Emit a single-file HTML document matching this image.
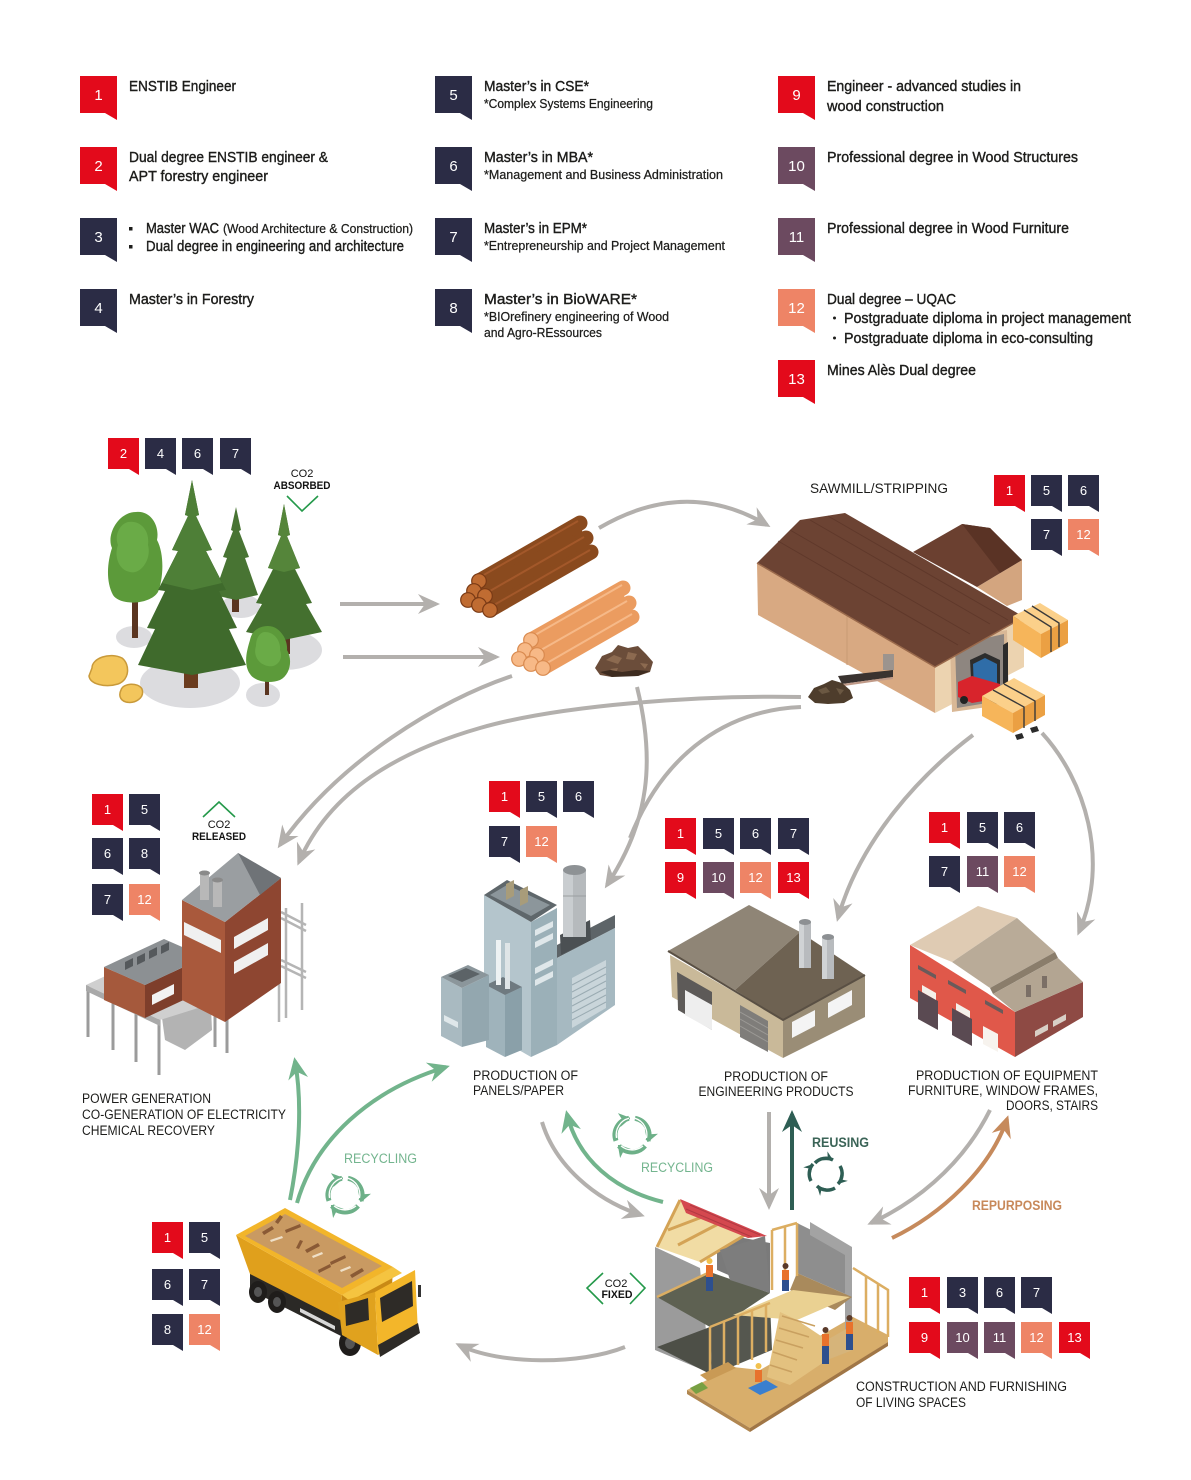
<!DOCTYPE html>
<html><head><meta charset="utf-8">
<style>
html,body{margin:0;padding:0;background:#fff;width:1191px;height:1480px;overflow:hidden}
svg{display:block}
text{font-family:"Liberation Sans",Arial,sans-serif}
.t{font-size:15px;fill:#1d1d1b;stroke:#1d1d1b;stroke-width:.4px}
.s{font-size:12.5px;fill:#1d1d1b;stroke:#1d1d1b;stroke-width:.25px}
.n{font-size:15px;fill:#fff;text-anchor:middle}
.m{font-size:13px;fill:#fff;text-anchor:middle}
.d{font-size:13.5px;fill:#1d1d1b}
.c{font-size:11px;fill:#111;text-anchor:middle}
</style></head><body>
<svg width="1191" height="1480" viewBox="0 0 1191 1480" xmlns="http://www.w3.org/2000/svg">
<defs>
 <path id="B" d="M0 0H37V44L25 37H0Z"/>
 <path id="S" d="M0 0H31V37L21 31H0Z"/>
 <marker id="ag" viewBox="-24 -12 26 24" refX="-4" refY="0" markerWidth="26" markerHeight="24" markerUnits="userSpaceOnUse" orient="auto"><path d="M0 0L-22 -10L-15 0L-22 10Z" fill="#b3b0ad"/></marker>
 <marker id="agr" viewBox="-24 -12 26 24" refX="-4" refY="0" markerWidth="26" markerHeight="24" markerUnits="userSpaceOnUse" orient="auto"><path d="M0 0L-22 -10L-15 0L-22 10Z" fill="#72b48c"/></marker>
 <marker id="adk" viewBox="-24 -12 26 24" refX="-4" refY="0" markerWidth="26" markerHeight="24" markerUnits="userSpaceOnUse" orient="auto"><path d="M0 0L-22 -10L-15 0L-22 10Z" fill="#2e5e54"/></marker>
 <marker id="abr" viewBox="-24 -12 26 24" refX="-4" refY="0" markerWidth="26" markerHeight="24" markerUnits="userSpaceOnUse" orient="auto"><path d="M0 0L-22 -10L-15 0L-22 10Z" fill="#c68a5c"/></marker>
 <marker id="sg" viewBox="-12 -8 13 16" refX="0" refY="0" markerWidth="13" markerHeight="16" markerUnits="userSpaceOnUse" orient="auto"><path d="M2 0L-10 -7L-7 0L-10 7Z" fill="#6db088"/></marker>
 <marker id="sd" viewBox="-10 -6 11 12" refX="0" refY="0" markerWidth="11" markerHeight="12" markerUnits="userSpaceOnUse" orient="auto"><path d="M0 0L-9 -5L-6 0L-9 5Z" fill="#2e5e54"/></marker>
</defs>

<!-- ================= LEGEND ================= -->
<g>
 <use href="#B" x="80" y="76" fill="#e30a1b"/><text class="n" x="98.5" y="100">1</text>
 <use href="#B" x="80" y="147" fill="#e30a1b"/><text class="n" x="98.5" y="171">2</text>
 <use href="#B" x="80" y="218" fill="#2b2c45"/><text class="n" x="98.5" y="242">3</text>
 <use href="#B" x="80" y="289" fill="#2b2c45"/><text class="n" x="98.5" y="313">4</text>

 <use href="#B" x="435" y="76" fill="#2b2c45"/><text class="n" x="453.5" y="100">5</text>
 <use href="#B" x="435" y="147" fill="#2b2c45"/><text class="n" x="453.5" y="171">6</text>
 <use href="#B" x="435" y="218" fill="#2b2c45"/><text class="n" x="453.5" y="242">7</text>
 <use href="#B" x="435" y="289" fill="#2b2c45"/><text class="n" x="453.5" y="313">8</text>

 <use href="#B" x="778" y="76" fill="#e30a1b"/><text class="n" x="796.5" y="100">9</text>
 <use href="#B" x="778" y="147" fill="#6c4a60"/><text class="n" x="796.5" y="171">10</text>
 <use href="#B" x="778" y="218" fill="#6c4a60"/><text class="n" x="796.5" y="242">11</text>
 <use href="#B" x="778" y="289" fill="#ee8466"/><text class="n" x="796.5" y="313">12</text>
 <use href="#B" x="778" y="360" fill="#e30a1b"/><text class="n" x="796.5" y="384">13</text>

 <text class="t" x="129" y="91" textLength="107" lengthAdjust="spacingAndGlyphs">ENSTIB Engineer</text>
 <text class="t" x="129" y="162" textLength="199" lengthAdjust="spacingAndGlyphs">Dual degree ENSTIB engineer &amp;</text>
 <text class="t" x="129" y="181" textLength="139" lengthAdjust="spacingAndGlyphs">APT forestry engineer</text>
 <rect x="129" y="227" width="3.5" height="3.5" fill="#1d1d1b"/>
 <rect x="129" y="245" width="3.5" height="3.5" fill="#1d1d1b"/>
 <text class="t" x="146" y="233" textLength="73" lengthAdjust="spacingAndGlyphs">Master WAC</text>
 <text class="s" x="223" y="233" textLength="190" lengthAdjust="spacingAndGlyphs">(Wood Architecture &amp; Construction)</text>
 <text class="t" x="146" y="251" textLength="258" lengthAdjust="spacingAndGlyphs">Dual degree in engineering and architecture</text>
 <text class="t" x="129" y="304" textLength="125" lengthAdjust="spacingAndGlyphs">Master’s in Forestry</text>

 <text class="t" x="484" y="91" textLength="105" lengthAdjust="spacingAndGlyphs">Master’s in CSE*</text>
 <text class="s" x="484" y="108" textLength="169" lengthAdjust="spacingAndGlyphs">*Complex Systems Engineering</text>
 <text class="t" x="484" y="162" textLength="109" lengthAdjust="spacingAndGlyphs">Master’s in MBA*</text>
 <text class="s" x="484" y="179" textLength="239" lengthAdjust="spacingAndGlyphs">*Management and Business Administration</text>
 <text class="t" x="484" y="233" textLength="103" lengthAdjust="spacingAndGlyphs">Master’s in EPM*</text>
 <text class="s" x="484" y="250" textLength="241" lengthAdjust="spacingAndGlyphs">*Entrepreneurship and Project Management</text>
 <text class="t" x="484" y="304" textLength="153" lengthAdjust="spacingAndGlyphs">Master’s in BioWARE*</text>
 <text class="s" x="484" y="321" textLength="185" lengthAdjust="spacingAndGlyphs">*BIOrefinery engineering of Wood</text>
 <text class="s" x="484" y="337" textLength="118" lengthAdjust="spacingAndGlyphs">and Agro-REssources</text>

 <text class="t" x="827" y="91" textLength="194" lengthAdjust="spacingAndGlyphs">Engineer - advanced studies in</text>
 <text class="t" x="827" y="111" textLength="117" lengthAdjust="spacingAndGlyphs">wood construction</text>
 <text class="t" x="827" y="162" textLength="251" lengthAdjust="spacingAndGlyphs">Professional degree in Wood Structures</text>
 <text class="t" x="827" y="233" textLength="242" lengthAdjust="spacingAndGlyphs">Professional degree in Wood Furniture</text>
 <text class="t" x="827" y="304" textLength="129" lengthAdjust="spacingAndGlyphs">Dual degree – UQAC</text>
 <circle cx="834.5" cy="318" r="1.5" fill="#1d1d1b"/>
 <circle cx="834.5" cy="338" r="1.5" fill="#1d1d1b"/>
 <text class="t" x="844" y="323" textLength="287" lengthAdjust="spacingAndGlyphs">Postgraduate diploma in project management</text>
 <text class="t" x="844" y="343" textLength="249" lengthAdjust="spacingAndGlyphs">Postgraduate diploma in eco-consulting</text>
 <text class="t" x="827" y="375" textLength="149" lengthAdjust="spacingAndGlyphs">Mines Alès Dual degree</text>
</g>

<!-- ================= CONNECTORS ================= -->
<g fill="none" stroke-linecap="butt">
 <g stroke="#b3b0ad" stroke-width="4">
  <path d="M340 604 H436" marker-end="url(#ag)"/>
  <path d="M343 657 H496" marker-end="url(#ag)"/>
  <path d="M599 528 Q686 477 767 525" marker-end="url(#ag)"/>
  <path d="M512 676 C440 700 340 760 280 845" marker-end="url(#ag)"/>
  <path d="M801 697 C700 695 560 705 480 728 S330 790 299 862" marker-end="url(#ag)"/>
  <path d="M637 687 C655 760 650 820 607 885" marker-end="url(#ag)"/>
  <path d="M801 707 C730 710 665 750 630 838"/>
  <path d="M973 735 C920 775 860 840 838 918" marker-end="url(#ag)"/>
  <path d="M1042 733 C1085 780 1110 860 1079 932" marker-end="url(#ag)"/>
  <path d="M542 1122 C555 1165 595 1200 641 1215" marker-end="url(#ag)"/>
  <path d="M769 1112 V1206" marker-end="url(#ag)"/>
  <path d="M990 1110 C960 1170 910 1205 871 1223" marker-end="url(#ag)"/>
  <path d="M625 1347 C580 1365 500 1365 459 1345" marker-end="url(#ag)"/>
 </g>
 <g stroke="#72b48c" stroke-width="4">
  <path d="M290 1200 C300 1150 302 1100 295 1061" marker-end="url(#agr)"/>
  <path d="M297 1203 C315 1140 370 1090 446 1067" marker-end="url(#agr)"/>
  <path d="M663 1202 C615 1190 578 1160 567 1114" marker-end="url(#agr)"/>
 </g>
 <path d="M792 1210 V1114" stroke="#2e5e54" stroke-width="4" marker-end="url(#adk)"/>
 <path d="M892 1238 C940 1215 990 1170 1007 1119" stroke="#c68a5c" stroke-width="4" marker-end="url(#abr)"/>
</g>

<!-- ================= FOREST ================= -->
<g>
 <g fill="#dcdcdf">
  <ellipse cx="190" cy="683" rx="50" ry="25"/>
  <ellipse cx="134" cy="637" rx="18" ry="11"/>
  <ellipse cx="285" cy="650" rx="37" ry="20"/>
  <ellipse cx="263" cy="695" rx="17" ry="12"/>
  <ellipse cx="241" cy="606" rx="19" ry="12"/>
 </g>
 <g fill="#5a3520">
  <rect x="232" y="590" width="7" height="22"/>
  <rect x="280" y="630" width="10" height="24"/>
  <rect x="132" y="595" width="6" height="43"/>
  <rect x="184" y="655" width="14" height="33" fill="#6b3c1f"/>
  <rect x="265" y="672" width="4" height="23"/>
 </g>
 <path fill="#487433" d="M236 507L241 530L239 531L249 557L245 558L258 595L236 600L214 595L227 558L223 557L233 531L231 530Z"/>
 <path fill="#5c9a3a" d="M136 512C150 510 160 525 157 540C165 555 163 580 158 592C150 605 120 606 113 595C105 580 108 560 112 548C106 535 118 512 136 512Z"/>
 <path fill="#6aab47" d="M128 522C140 520 150 530 148 545C152 560 140 575 130 572C118 570 114 555 118 545C114 535 120 524 128 522Z"/>
 <path fill="#44702f" d="M284 504L290 535L287 536L300 568L295 569L312 603L306 604L322 632L284 640L246 632L262 604L256 603L273 569L268 568L281 536L278 535Z"/>
 <path fill="#55853a" d="M284 504L290 535L287 536L300 568L284 572L268 568L281 536L278 535Z"/>
 <path fill="#3f6a2c" d="M192 480L199 515L196 516L212 550L206 551L226 590L219 591L237 628L229 629L246 665L192 675L138 665L155 629L147 628L165 591L158 590L178 551L172 550L188 516L185 515Z"/>
 <path fill="#4e7f37" d="M192 480L199 515L196 516L212 550L206 551L222 583L192 590L162 583L178 551L172 550L188 516L185 515Z"/>
 <path fill="#5c9a3a" d="M268 626C280 626 288 640 287 650C293 660 290 675 280 680C270 684 255 682 250 674C243 664 247 650 250 640C252 630 260 626 268 626Z"/>
 <path fill="#6aab47" d="M265 632C275 632 281 642 280 650C284 660 276 668 268 666C258 664 253 655 256 646C256 638 260 632 265 632Z"/>
 <path fill="#f3c65c" stroke="#c99a3a" stroke-width="1.5" d="M92 668C92 658 110 652 122 658C130 664 130 680 118 684C105 688 90 684 89 676Z"/>
 <path fill="#f3c65c" stroke="#c99a3a" stroke-width="1.5" d="M121 690C123 683 138 682 142 689C145 698 135 704 126 702C119 700 119 694 121 690Z"/>
 <text class="c" x="302" y="477">CO2</text>
 <text class="c" x="302" y="489" font-weight="bold" textLength="57" lengthAdjust="spacingAndGlyphs">ABSORBED</text>
 <polyline points="287,496 302,511 318,496" fill="none" stroke="#24994a" stroke-width="1.6"/>
</g>

<!-- ================= LOGS ================= -->
<g>
 <g stroke="#8a4a1e" stroke-width="15" stroke-linecap="round">
  <line x1="479" y1="581" x2="580" y2="523"/>
  <line x1="474" y1="591" x2="575" y2="533"/>
  <line x1="485" y1="596" x2="586" y2="538"/>
  <line x1="468" y1="600" x2="569" y2="542"/>
  <line x1="479" y1="605" x2="580" y2="547"/>
  <line x1="490" y1="610" x2="591" y2="552"/>
 </g>
 <g stroke="#a3582a" stroke-width="2">
  <line x1="482" y1="576" x2="578" y2="521"/>
  <line x1="490" y1="591" x2="584" y2="537"/>
  <line x1="494" y1="605" x2="590" y2="550"/>
 </g>
 <g fill="#c06c32" stroke="#7a3a15" stroke-width="1.2">
  <circle cx="479" cy="581" r="7.3"/>
  <circle cx="474" cy="591" r="7.3"/>
  <circle cx="485" cy="596" r="7.3"/>
  <circle cx="468" cy="600" r="7.3"/>
  <circle cx="479" cy="605" r="7.3"/>
  <circle cx="490" cy="610" r="7.3"/>
 </g>
 <g stroke="#eb9c60" stroke-width="15" stroke-linecap="round">
  <line x1="531" y1="640" x2="623" y2="588"/>
  <line x1="525" y1="650" x2="617" y2="598"/>
  <line x1="537" y1="655" x2="629" y2="603"/>
  <line x1="519" y1="659" x2="611" y2="607"/>
  <line x1="531" y1="664" x2="623" y2="612"/>
  <line x1="543" y1="668" x2="632" y2="617"/>
 </g>
 <g stroke="#f6b988" stroke-width="2">
  <line x1="535" y1="635" x2="622" y2="585"/>
  <line x1="541" y1="650" x2="627" y2="601"/>
  <line x1="547" y1="663" x2="632" y2="614"/>
 </g>
 <g fill="#f7b987" stroke="#d98a4f" stroke-width="1.2">
  <circle cx="531" cy="640" r="7.3"/>
  <circle cx="525" cy="650" r="7.3"/>
  <circle cx="537" cy="655" r="7.3"/>
  <circle cx="519" cy="659" r="7.3"/>
  <circle cx="531" cy="664" r="7.3"/>
  <circle cx="543" cy="668" r="7.3"/>
 </g>
 <path fill="#6b4d3a" d="M595 668L602 656L612 652L618 645L628 648L638 646L646 654L653 662L650 672L638 676L624 674L612 677L600 675Z"/>
 <path fill="#8c6a50" d="M606 660L614 655L622 658L618 664ZM628 652L637 654L634 660L626 659ZM640 663L648 664L645 669ZM610 669L618 668L616 673Z"/>
 <path fill="#3e2c20" d="M600 672L610 670L622 672L636 670L650 671L638 676L612 677Z"/>
</g>

<!-- ================= SAWMILL ================= -->
<g>
 <text class="d" x="810" y="493" textLength="138" lengthAdjust="spacingAndGlyphs">SAWMILL/STRIPPING</text>
 <path fill="#d3a57f" d="M977 587L1022 560L1022 600L1007 606Z"/>
 <path fill="#6b4030" d="M913 552L962 524L990 528L1022 560L977 587Z"/>
 <path fill="#5a3325" d="M962 524L990 528L1022 560L1000 573Z"/>
 <path fill="#d8a982" d="M757 563L935 667L935 713L758 615Z"/>
 <line x1="847" y1="615" x2="847" y2="665" stroke="#c99a74" stroke-width="1"/>
 <path fill="#ecd3b0" d="M935 667L1000 626L1024 617L1024 667L935 713Z"/>
 <path fill="#d9b896" d="M950 640L1007 630L1009 704L952 712Z"/>
 <path fill="#8e8680" d="M955 645L1004 634L1005 700L957 708Z"/>
 <path fill="#6c4333" d="M757 563L800 520L845 513L1024 617L935 667Z"/>
 <g stroke="#5a3427" stroke-width="1" opacity=".7">
  <line x1="778" y1="541" x2="958" y2="645"/>
  <line x1="790" y1="530" x2="970" y2="634"/>
  <line x1="810" y1="520" x2="990" y2="624"/>
  <line x1="828" y1="516" x2="1008" y2="620"/>
 </g>
 <path fill="none" stroke="#9a6a4c" stroke-width="1.5" d="M757 563L935 667L1024 617"/>
 <rect x="883" y="654" width="11" height="16" fill="#9c948e"/>
 <path fill="#3a3330" d="M838 676L893 670L893 677L842 684Z"/>
 <path fill="#c09a88" d="M842 684L893 677L893 679L844 686Z"/>
 <path fill="#4e3d2c" d="M808 697L814 688L824 684L832 680L842 683L850 690L853 698L844 703L828 704L815 703Z"/>
 <path fill="#6b5842" d="M818 690L826 687L830 692L822 694ZM836 688L844 690L840 695Z"/>
 <path fill="#fbd08a" d="M1013 616L1040 603L1068 620L1041 634Z"/>
 <path fill="#f6b55a" d="M1013 616L1041 634L1041 658L1013 640Z"/>
 <path fill="#eba043" d="M1041 634L1068 620L1068 643L1041 658Z"/>
 <path fill="none" stroke="#3a3a3a" stroke-width="1.4" d="M1024 610L1051 627L1051 652M1032 606L1059 623L1059 647"/>
 <path fill="#2b2b2b" d="M1003 645L1008 642L1008 700L1003 702Z"/>
 <path fill="#2d2d2d" d="M970 660L985 653L1000 660L1000 690L972 697Z"/>
 <path fill="#2f6da8" d="M973 664L985 658L997 664L997 684L974 690Z"/>
 <path fill="#d8242c" d="M958 682L972 676L1000 684L1000 698L972 703L958 697Z"/>
 <circle cx="964" cy="700" r="4" fill="#222"/><circle cx="994" cy="701" r="4" fill="#222"/>
 <path fill="#fbd08a" d="M982 696L1014 678L1045 695L1013 713Z"/>
 <path fill="#f6b55a" d="M982 696L1013 713L1013 733L982 716Z"/>
 <path fill="#eba043" d="M1013 713L1045 695L1045 715L1013 733Z"/>
 <path fill="none" stroke="#3a3a3a" stroke-width="1.4" d="M993 690L1024 707L1024 728M1004 684L1035 701L1035 721"/>
 <path fill="#2b2b2b" d="M1015 735L1022 733L1024 738L1017 740ZM1030 728L1037 726L1039 731L1032 733Z"/>
</g>

<!-- ================= POWER PLANT ================= -->
<g>
 <text class="c" x="219" y="828">CO2</text>
 <text class="c" x="219" y="840" font-weight="bold" textLength="54" lengthAdjust="spacingAndGlyphs">RELEASED</text>
 <polyline points="203,817 219,802 235,817" fill="none" stroke="#24994a" stroke-width="1.6"/>
 <g stroke="#b5b5b5" stroke-width="2.5">
  <line x1="279" y1="905" x2="279" y2="1022"/><line x1="286" y1="908" x2="286" y2="1018"/>
  <line x1="302" y1="903" x2="302" y2="1010"/>
  <line x1="281" y1="912" x2="306" y2="925"/><line x1="281" y1="918" x2="306" y2="931"/>
  <line x1="281" y1="960" x2="306" y2="972"/><line x1="281" y1="966" x2="306" y2="978"/>
 </g>
 <g stroke="#9b9b9b" stroke-width="3">
  <line x1="88" y1="985" x2="88" y2="1037"/><line x1="113" y1="1000" x2="113" y2="1050"/>
  <line x1="136" y1="1008" x2="136" y2="1062"/><line x1="159" y1="1015" x2="159" y2="1075"/>
  <line x1="215" y1="995" x2="215" y2="1047"/><line x1="227" y1="1000" x2="227" y2="1053"/>
 </g>
 <path fill="#b3b3b3" d="M160 1003L210 985L212 1030L185 1050L165 1040Z"/>
 <path fill="#cfcfcf" d="M86 985L140 960L230 998L160 1020Z"/>
 <path fill="#a9a9a9" d="M86 985L160 1020L160 1026L86 991Z"/>
 <path fill="#a5593c" d="M104 967L145 985L145 1018L104 1000Z"/>
 <path fill="#7e3e2b" d="M145 985L205 957L205 990L145 1018Z"/>
 <path fill="#8c9093" d="M104 967L164 939L205 957L145 985Z"/>
 <g fill="#55595c">
  <path d="M125 962L133 958L133 966L125 970Z"/><path d="M137 957L145 953L145 961L137 965Z"/>
  <path d="M149 951L157 947L157 955L149 959Z"/><path d="M161 946L169 942L169 950L161 954Z"/>
 </g>
 <path fill="#f2f2f2" d="M152 995L174 984L174 994L152 1005Z"/>
 <rect x="188" y="942" width="28" height="30" fill="#c2c2c2"/>
 <path fill="#a9593c" d="M182 900L225 922L225 1022L182 1000Z"/>
 <path fill="#8e4631" d="M225 922L281 878L281 983L225 1022Z"/>
 <path fill="#9a9ea1" d="M238 853L182 900L225 922L281 878Z"/>
 <path fill="#6f7377" d="M281 878L238 853L260 895Z"/>
 <rect x="200" y="873" width="9" height="27" fill="#b8b8b8"/><rect x="213" y="880" width="9" height="27" fill="#b8b8b8"/>
 <ellipse cx="204.5" cy="873" rx="5.5" ry="2.5" fill="#8a8a8a"/><ellipse cx="217.5" cy="880" rx="5.5" ry="2.5" fill="#8a8a8a"/>
 <path fill="#f0f0f0" d="M184 922L221 940L221 953L184 935Z"/>
 <path fill="#f0f0f0" d="M234 937L268 918L268 930L234 949Z"/>
 <path fill="#f0f0f0" d="M234 962L268 943L268 955L234 974Z"/>
 <text class="d" x="82" y="1103" textLength="129" lengthAdjust="spacingAndGlyphs">POWER GENERATION</text>
 <text class="d" x="82" y="1119" textLength="204" lengthAdjust="spacingAndGlyphs">CO-GENERATION OF ELECTRICITY</text>
 <text class="d" x="82" y="1135" textLength="133" lengthAdjust="spacingAndGlyphs">CHEMICAL RECOVERY</text>
</g>

<!-- ================= PANELS FACTORY ================= -->
<g>
 <path fill="#b4c5cc" d="M484 895L531 922L531 1057L484 1030Z"/>
 <path fill="#9bb0b8" d="M531 922L557 908L557 1045L531 1057Z"/>
 <path fill="#5f676b" d="M484 895L507 880L557 905L531 922Z"/>
 <path fill="#8c969b" d="M490 895L507 885L550 905L531 916Z"/>
 <path fill="#a89c7a" d="M506 884L514 880L514 896L506 900Z"/><path fill="#a89c7a" d="M520 890L528 886L528 902L520 906Z"/>
 <g fill="#dfe7ea"><path d="M535 930L553 921L553 927L535 936Z"/><path d="M535 942L553 933L553 939L535 948Z"/><path d="M535 968L553 959L553 965L535 974Z"/><path d="M535 980L553 971L553 977L535 986Z"/></g>
 <path fill="#5d6468" d="M557 945L615 915L615 928L557 958Z"/>
 <path fill="#a6b9c1" d="M557 958L615 928L615 1005L557 1045Z"/>
 <path fill="#c9d5da" d="M572 978L606 960L606 1008L572 1028Z"/>
 <g stroke="#9aabb2" stroke-width="1"><line x1="572" y1="985" x2="606" y2="967"/><line x1="572" y1="992" x2="606" y2="974"/><line x1="572" y1="999" x2="606" y2="981"/><line x1="572" y1="1006" x2="606" y2="988"/><line x1="572" y1="1013" x2="606" y2="995"/><line x1="572" y1="1020" x2="606" y2="1002"/></g>
 <path fill="#4b5053" d="M560 935L590 920L591 940L561 955Z"/>
 <rect x="563" y="870" width="23" height="67" fill="#b6babd"/>
 <rect x="563" y="870" width="10" height="67" fill="#c9cdd0"/>
 <ellipse cx="574.5" cy="870" rx="11.5" ry="5" fill="#8e9295"/>
 <line x1="563" y1="896" x2="586" y2="896" stroke="#9a9ea1" stroke-width="1"/>
 <path fill="#9fb3bb" d="M486 985L505 995L505 1057L486 1047Z"/>
 <path fill="#8aa0a9" d="M505 995L522 987L522 1050L505 1057Z"/>
 <path fill="#6f7a80" d="M486 985L503 977L522 987L505 995Z"/>
 <rect x="496" y="940" width="5" height="45" fill="#eef2f3"/><rect x="505" y="943" width="5" height="46" fill="#dfe5e7"/>
 <path fill="#a9bac1" d="M441 977L462 988L462 1047L441 1036Z"/>
 <path fill="#93a7af" d="M462 988L489 975L489 1040L462 1047Z"/>
 <path fill="#8b969b" d="M441 977L468 965L489 975L462 988Z"/>
 <path fill="#5c6367" d="M448 976L466 968L480 974L462 982Z"/>
 <path fill="#dfe7ea" d="M444 1015L458 1022L458 1028L444 1021Z"/>
 <text class="d" x="473" y="1080" textLength="105" lengthAdjust="spacingAndGlyphs">PRODUCTION OF</text>
 <text class="d" x="473" y="1095" textLength="91" lengthAdjust="spacingAndGlyphs">PANELS/PAPER</text>
</g>

<!-- ================= ENGINEERING BUILDING ================= -->
<g>
 <path fill="#c9b999" d="M670 955L783 1020L783 1058L672 997Z"/>
 <path fill="#9a8d76" d="M783 1020L865 975L865 1017L783 1058Z"/>
 <path fill="#5d5a58" d="M677 972L712 992L712 1030L678 1010Z"/>
 <path fill="#eeeeee" d="M685 990L712 1005L712 1030L685 1015Z"/>
 <path fill="#7f7d7a" d="M740 1005L768 1021L768 1052L740 1037Z"/>
 <g stroke="#9c9a96" stroke-width="1"><line x1="740" y1="1012" x2="768" y2="1028"/><line x1="740" y1="1019" x2="768" y2="1035"/><line x1="740" y1="1026" x2="768" y2="1042"/></g>
 <path fill="#f4f4f4" d="M792 1022L815 1010L815 1026L792 1038Z"/>
 <path fill="#f4f4f4" d="M828 1003L852 990L852 1005L828 1018Z"/>
 <path fill="#8f8576" d="M749 905L668 951L735 990L800 932Z"/>
 <path fill="#6e6252" d="M800 932L735 990L783 1020L865 975Z"/>
 <path fill="none" stroke="#5a5044" stroke-width="2" d="M668 951L783 1020L865 975"/>
 <rect x="799" y="922" width="12" height="46" fill="#b8bbbe"/><rect x="799" y="922" width="5" height="46" fill="#d0d3d5"/>
 <ellipse cx="805" cy="922" rx="6" ry="3" fill="#8d9093"/>
 <rect x="822" y="937" width="12" height="42" fill="#b8bbbe"/><rect x="822" y="937" width="5" height="42" fill="#d0d3d5"/>
 <ellipse cx="828" cy="937" rx="6" ry="3" fill="#8d9093"/>
 <text class="d" x="776" y="1081" text-anchor="middle" textLength="104" lengthAdjust="spacingAndGlyphs">PRODUCTION OF</text>
 <text class="d" x="776" y="1096" text-anchor="middle" textLength="155" lengthAdjust="spacingAndGlyphs">ENGINEERING PRODUCTS</text>
</g>

<!-- ================= FURNITURE BUILDING ================= -->
<g>
 <path fill="#e0584a" d="M910 945L987 993L1015 1012L1015 1057L910 998Z"/>
 <path fill="#8e4a44" d="M1015 1012L1083 982L1083 1017L1015 1057Z"/>
 <path fill="#dfcbb3" d="M910 945L978 906L1017 918L952 962Z"/>
 <path fill="#b9ab98" d="M952 962L1017 918L1055 952L990 988Z"/>
 <path fill="#8a7d6b" d="M990 988L1055 952L1058 958L993 994Z"/>
 <path fill="#b3a592" d="M993 994L1058 958L1083 982L1015 1012Z"/>
 <g fill="#5a4a52"><path d="M918 990L938 1001L938 1030L918 1019Z"/><path d="M952 1008L972 1019L972 1046L952 1035Z"/></g>
 <path fill="#f4f0ea" d="M922 985L936 993L936 1000L922 992Z"/><path fill="#f4f0ea" d="M956 1003L970 1011L970 1018L956 1010Z"/>
 <path fill="#f7f3ee" d="M983 1026L998 1034L998 1052L983 1044Z"/>
 <g fill="#6a5a5a"><path d="M918 965L936 975L936 979L918 969Z"/><path d="M948 980L966 990L966 994L948 984Z"/><path d="M985 1000L1003 1010L1003 1014L985 1004Z"/></g>
 <g fill="#d8cfc6"><path d="M1035 1031L1048 1024L1048 1030L1035 1037Z"/><path d="M1053 1021L1066 1014L1066 1020L1053 1027Z"/></g>
 <rect x="1026" y="985" width="5" height="12" fill="#7b6f66"/><rect x="1042" y="976" width="5" height="12" fill="#7b6f66"/>
 <text class="d" x="1098" y="1080" text-anchor="end" textLength="182" lengthAdjust="spacingAndGlyphs">PRODUCTION OF EQUIPMENT</text>
 <text class="d" x="1098" y="1095" text-anchor="end" textLength="190" lengthAdjust="spacingAndGlyphs">FURNITURE, WINDOW FRAMES,</text>
 <text class="d" x="1098" y="1110" text-anchor="end" textLength="92" lengthAdjust="spacingAndGlyphs">DOORS, STAIRS</text>
</g>

<!-- ================= TRUCK ================= -->
<g>
 <path fill="#2b2926" d="M250 1268L345 1318L345 1338L250 1290Z"/>
 <path fill="#d8d8d8" d="M300 1308L335 1326L335 1330L300 1312Z"/>
 <ellipse cx="258" cy="1292" rx="9" ry="11" fill="#1f1d1b"/><ellipse cx="258" cy="1292" rx="4" ry="5" fill="#555"/>
 <ellipse cx="277" cy="1302" rx="9" ry="11" fill="#1f1d1b"/><ellipse cx="277" cy="1302" rx="4" ry="5" fill="#555"/>
 <ellipse cx="350" cy="1343" rx="11" ry="13" fill="#1f1d1b"/><ellipse cx="350" cy="1343" rx="5" ry="6" fill="#555"/>
 <path fill="#e0a01c" d="M236 1235L342 1295L340 1320L250 1274Z"/>
 <path fill="#c98a15" d="M342 1295L393 1267L392 1287L340 1320Z"/>
 <path fill="#f2b52a" d="M236 1235L285 1208L393 1267L342 1295Z"/>
 <path fill="#c99a62" d="M245 1236L285 1214L382 1266L342 1288Z"/>
 <g fill="#8a5a35">
  <path d="M262 1232L272 1226L274 1229L264 1235Z"/><path d="M285 1230L300 1224L301 1227L286 1233Z"/>
  <path d="M305 1250L318 1243L320 1246L307 1253Z"/><path d="M330 1262L345 1255L346 1258L331 1265Z"/>
  <path d="M296 1248L300 1240L303 1241L299 1249Z"/><path d="M350 1275L362 1268L364 1271L352 1278Z"/>
  <path d="M275 1222L280 1215L283 1217L278 1224Z"/><path d="M318 1270L330 1264L331 1267L319 1273Z"/>
 </g>
 <g fill="#efe0c8"><path d="M270 1240L282 1236L283 1238L271 1242Z"/><path d="M312 1256L322 1252L323 1254L313 1258Z"/><path d="M340 1270L350 1266L351 1268L341 1272Z"/></g>
 <path fill="#f5c440" d="M342 1295L393 1267L402 1273L350 1301Z"/>
 <path fill="#e0a21e" d="M338 1302L375 1292L378 1355L342 1335Z"/>
 <path fill="#f3b62a" d="M375 1292L415 1270L418 1333L378 1355Z"/>
 <path fill="#2e2b27" d="M380 1298L412 1281L413 1306L382 1322Z"/>
 <path fill="#2e2b27" d="M345 1305L368 1298L369 1320L346 1326Z"/>
 <path fill="#2e2b27" d="M378 1345L418 1323L420 1333L380 1357Z"/>
 <rect x="418" y="1285" width="3" height="12" fill="#333"/>
</g>

<!-- ================= CONSTRUCTION HOUSE ================= -->
<g>
 <path fill="#d8ae6b" d="M687 1390L750 1428L797 1400L888 1342L888 1335L853 1317L760 1370L733 1367Z"/>
 <path fill="#b08650" d="M687 1390L750 1428L750 1432L687 1394Z"/>
 <path fill="#a07646" d="M750 1428L888 1342L888 1346L750 1432Z"/>
 <path fill="#9b9b9b" d="M655 1247L700 1268L710 1373L655 1350Z"/>
 <path fill="#7a7a7a" d="M717 1233L770 1243L770 1293L717 1270Z"/>
 <path fill="#8e8e8e" d="M797 1223L852 1250L852 1297L797 1273Z"/>
 <path fill="#a3a3a3" d="M810 1222L852 1247L852 1333L845 1330L845 1255L810 1235Z"/>
 <path fill="#5e6152" d="M657 1297L710 1272L770 1293L737 1315L710 1327Z"/>
 <path fill="#4d4f47" d="M657 1347L710 1327L712 1375Z"/>
 <path fill="#55574f" d="M710 1327L770 1303L772 1350L712 1375Z"/>
 <path fill="#a98a5c" d="M797 1273L852 1297L835 1310L790 1290Z"/>
 <path fill="#ead192" d="M733 1315L793 1290L850 1297L797 1320Z"/>
 <path fill="#e3c17f" d="M767 1377L780 1312L797 1320L827 1340L827 1360L790 1385Z"/>
 <g stroke="#c9a060" stroke-width="1.5"><line x1="770" y1="1365" x2="792" y2="1372"/><line x1="773" y1="1352" x2="797" y2="1360"/><line x1="776" y1="1340" x2="803" y2="1348"/><line x1="779" y1="1328" x2="809" y2="1337"/><line x1="782" y1="1316" x2="815" y2="1326"/></g>
 <path fill="#d6b47a" d="M827 1340L853 1325L853 1350L827 1360Z"/>
 <g stroke="#dcae62" stroke-width="2.5" fill="none">
  <path d="M710 1327L710 1375M724 1322L724 1370M738 1316L738 1365M752 1310L752 1360M766 1305L766 1352"/>
  <path d="M772 1230L772 1290M785 1226L785 1283M797 1223L797 1276M772 1230L797 1223"/>
  <path d="M853 1268L888 1290L888 1337M866 1276L866 1330M878 1283L878 1333"/>
  <path d="M657 1297L710 1272M710 1327L770 1303"/>
 </g>
 <path fill="#f1dca4" d="M657 1247L680 1200L750 1232L700 1262Z"/>
 <g stroke="#d4a356" stroke-width="3" fill="none"><path d="M657 1247L680 1200M668 1230L710 1214M678 1245L722 1222M700 1262L750 1232"/></g>
 <path fill="#7d7d7d" d="M720 1250L765 1236L770 1293L730 1280Z"/>
 <path fill="#d4484f" d="M680 1199L767 1236L748 1238L686 1213Z"/>
 <g stroke="#b23a42" stroke-width="1"><line x1="690" y1="1205" x2="760" y2="1235"/><line x1="686" y1="1209" x2="752" y2="1237"/></g>
 <g>
  <rect x="706" y="1265" width="7" height="12" fill="#e8722c"/><rect x="706" y="1277" width="7" height="14" fill="#2d4f8e"/><circle cx="709.5" cy="1261" r="3" fill="#f2c14e"/>
  <rect x="782" y="1270" width="7" height="10" fill="#e8722c"/><rect x="782" y="1280" width="7" height="11" fill="#2d4f8e"/><circle cx="785.5" cy="1266" r="3" fill="#5a3a2a"/>
  <rect x="822" y="1334" width="7" height="12" fill="#e8722c"/><rect x="822" y="1346" width="7" height="18" fill="#2d4f8e"/><circle cx="825.5" cy="1330" r="3" fill="#5a3a2a"/>
  <rect x="846" y="1322" width="7" height="12" fill="#e8722c"/><rect x="846" y="1334" width="7" height="16" fill="#2d4f8e"/><circle cx="849.5" cy="1318" r="3" fill="#5a3a2a"/>
  <rect x="755" y="1370" width="7" height="12" fill="#e8722c"/><circle cx="758.5" cy="1366" r="3" fill="#f2c14e"/>
  <path fill="#3a7fcf" d="M748 1388L766 1380L778 1387L760 1395Z"/>
  <path fill="#c99a55" d="M700 1375L728 1362L736 1368L708 1381Z"/>
  <path fill="#78a043" d="M690 1388L702 1382L708 1388L696 1394Z"/>
 </g>
 <text class="c" x="616" y="1287">CO2</text>
 <text class="c" x="617" y="1298" font-weight="bold" textLength="31" lengthAdjust="spacingAndGlyphs">FIXED</text>
 <polyline points="603,1273 587,1288 603,1304" fill="none" stroke="#24994a" stroke-width="1.6"/>
 <polyline points="630,1273 645,1288 630,1304" fill="none" stroke="#24994a" stroke-width="1.6"/>
 <text class="d" x="856" y="1391" textLength="211" lengthAdjust="spacingAndGlyphs">CONSTRUCTION AND FURNISHING</text>
 <text class="d" x="856" y="1407" textLength="110" lengthAdjust="spacingAndGlyphs">OF LIVING SPACES</text>
</g>

<!-- ================= FLOW LABELS & ICONS ================= -->
<g>
 <text x="344" y="1163" font-size="13.5" fill="#74b58f" textLength="73" lengthAdjust="spacingAndGlyphs">RECYCLING</text>
 <text x="641" y="1172" font-size="13.5" fill="#74b58f" textLength="72" lengthAdjust="spacingAndGlyphs">RECYCLING</text>
 <text x="812" y="1147" font-size="13.5" fill="#3b6457" font-weight="bold" textLength="57" lengthAdjust="spacingAndGlyphs">REUSING</text>
 <text x="972" y="1210" font-size="13.5" fill="#c8895a" font-weight="bold" textLength="90" lengthAdjust="spacingAndGlyphs">REPURPOSING</text>
 <g fill="none" stroke="#6db088" stroke-width="5">
  <path d="M348 1178.3A17 17 0 0 1 361 1200.8" marker-end="url(#sg)"/>
  <path d="M358 1205.9A17 17 0 0 1 332 1205.9" marker-end="url(#sg)"/>
  <path d="M329 1200.8A17 17 0 0 1 342 1178.3" marker-end="url(#sg)"/>
  <path d="M635 1118.3A17 17 0 0 1 648 1140.8" marker-end="url(#sg)"/>
  <path d="M645 1145.9A17 17 0 0 1 619 1145.9" marker-end="url(#sg)"/>
  <path d="M616 1140.8A17 17 0 0 1 629 1118.3" marker-end="url(#sg)"/>
 </g>
 <g fill="none" stroke="#fff" stroke-width="1.3">
  <path d="M348 1178.3A17 17 0 0 1 359.5 1198"/>
  <path d="M356 1205.9A17 17 0 0 1 334 1205.9"/>
  <path d="M329.5 1198A17 17 0 0 1 342 1178.3"/>
  <path d="M635 1118.3A17 17 0 0 1 646.5 1138"/>
  <path d="M643 1145.9A17 17 0 0 1 621 1145.9"/>
  <path d="M616.5 1138A17 17 0 0 1 629 1118.3"/>
 </g>
 <g fill="none" stroke="#2e5e54" stroke-width="3.5">
  <path d="M815 1163A15 15 0 0 1 833 1160" marker-end="url(#sd)"/>
  <path d="M840 1166A15 15 0 0 1 838 1184" marker-end="url(#sd)"/>
  <path d="M835 1188A15 15 0 0 1 817 1186" marker-end="url(#sd)"/>
  <path d="M811 1181A15 15 0 0 1 813 1164" marker-end="url(#sd)"/>
 </g>
</g>

<!-- ================= DIAGRAM BADGES ================= -->
<g>
 <use href="#S" x="108" y="438" fill="#e30a1b"/><text class="m" x="123.5" y="458">2</text>
 <use href="#S" x="145" y="438" fill="#2b2c45"/><text class="m" x="160.5" y="458">4</text>
 <use href="#S" x="182" y="438" fill="#2b2c45"/><text class="m" x="197.5" y="458">6</text>
 <use href="#S" x="220" y="438" fill="#2b2c45"/><text class="m" x="235.5" y="458">7</text>

 <use href="#S" x="994" y="475" fill="#e30a1b"/><text class="m" x="1009.5" y="495">1</text>
 <use href="#S" x="1031" y="475" fill="#2b2c45"/><text class="m" x="1046.5" y="495">5</text>
 <use href="#S" x="1068" y="475" fill="#2b2c45"/><text class="m" x="1083.5" y="495">6</text>
 <use href="#S" x="1031" y="519" fill="#2b2c45"/><text class="m" x="1046.5" y="539">7</text>
 <use href="#S" x="1068" y="519" fill="#ee8466"/><text class="m" x="1083.5" y="539">12</text>

 <use href="#S" x="92" y="794" fill="#e30a1b"/><text class="m" x="107.5" y="814">1</text>
 <use href="#S" x="129" y="794" fill="#2b2c45"/><text class="m" x="144.5" y="814">5</text>
 <use href="#S" x="92" y="838" fill="#2b2c45"/><text class="m" x="107.5" y="858">6</text>
 <use href="#S" x="129" y="838" fill="#2b2c45"/><text class="m" x="144.5" y="858">8</text>
 <use href="#S" x="92" y="884" fill="#2b2c45"/><text class="m" x="107.5" y="904">7</text>
 <use href="#S" x="129" y="884" fill="#ee8466"/><text class="m" x="144.5" y="904">12</text>

 <use href="#S" x="489" y="781" fill="#e30a1b"/><text class="m" x="504.5" y="801">1</text>
 <use href="#S" x="526" y="781" fill="#2b2c45"/><text class="m" x="541.5" y="801">5</text>
 <use href="#S" x="563" y="781" fill="#2b2c45"/><text class="m" x="578.5" y="801">6</text>
 <use href="#S" x="489" y="826" fill="#2b2c45"/><text class="m" x="504.5" y="846">7</text>
 <use href="#S" x="526" y="826" fill="#ee8466"/><text class="m" x="541.5" y="846">12</text>

 <use href="#S" x="665" y="818" fill="#e30a1b"/><text class="m" x="680.5" y="838">1</text>
 <use href="#S" x="703" y="818" fill="#2b2c45"/><text class="m" x="718.5" y="838">5</text>
 <use href="#S" x="740" y="818" fill="#2b2c45"/><text class="m" x="755.5" y="838">6</text>
 <use href="#S" x="778" y="818" fill="#2b2c45"/><text class="m" x="793.5" y="838">7</text>
 <use href="#S" x="665" y="862" fill="#e30a1b"/><text class="m" x="680.5" y="882">9</text>
 <use href="#S" x="703" y="862" fill="#6c4a60"/><text class="m" x="718.5" y="882">10</text>
 <use href="#S" x="740" y="862" fill="#ee8466"/><text class="m" x="755.5" y="882">12</text>
 <use href="#S" x="778" y="862" fill="#e30a1b"/><text class="m" x="793.5" y="882">13</text>

 <use href="#S" x="929" y="812" fill="#e30a1b"/><text class="m" x="944.5" y="832">1</text>
 <use href="#S" x="967" y="812" fill="#2b2c45"/><text class="m" x="982.5" y="832">5</text>
 <use href="#S" x="1004" y="812" fill="#2b2c45"/><text class="m" x="1019.5" y="832">6</text>
 <use href="#S" x="929" y="856" fill="#2b2c45"/><text class="m" x="944.5" y="876">7</text>
 <use href="#S" x="967" y="856" fill="#6c4a60"/><text class="m" x="982.5" y="876">11</text>
 <use href="#S" x="1004" y="856" fill="#ee8466"/><text class="m" x="1019.5" y="876">12</text>

 <use href="#S" x="152" y="1222" fill="#e30a1b"/><text class="m" x="167.5" y="1242">1</text>
 <use href="#S" x="189" y="1222" fill="#2b2c45"/><text class="m" x="204.5" y="1242">5</text>
 <use href="#S" x="152" y="1269" fill="#2b2c45"/><text class="m" x="167.5" y="1289">6</text>
 <use href="#S" x="189" y="1269" fill="#2b2c45"/><text class="m" x="204.5" y="1289">7</text>
 <use href="#S" x="152" y="1314" fill="#2b2c45"/><text class="m" x="167.5" y="1334">8</text>
 <use href="#S" x="189" y="1314" fill="#ee8466"/><text class="m" x="204.5" y="1334">12</text>

 <use href="#S" x="909" y="1277" fill="#e30a1b"/><text class="m" x="924.5" y="1297">1</text>
 <use href="#S" x="947" y="1277" fill="#2b2c45"/><text class="m" x="962.5" y="1297">3</text>
 <use href="#S" x="984" y="1277" fill="#2b2c45"/><text class="m" x="999.5" y="1297">6</text>
 <use href="#S" x="1021" y="1277" fill="#2b2c45"/><text class="m" x="1036.5" y="1297">7</text>
 <use href="#S" x="909" y="1322" fill="#e30a1b"/><text class="m" x="924.5" y="1342">9</text>
 <use href="#S" x="947" y="1322" fill="#6c4a60"/><text class="m" x="962.5" y="1342">10</text>
 <use href="#S" x="984" y="1322" fill="#6c4a60"/><text class="m" x="999.5" y="1342">11</text>
 <use href="#S" x="1021" y="1322" fill="#ee8466"/><text class="m" x="1036.5" y="1342">12</text>
 <use href="#S" x="1059" y="1322" fill="#e30a1b"/><text class="m" x="1074.5" y="1342">13</text>
</g>
</svg>
</body></html>
